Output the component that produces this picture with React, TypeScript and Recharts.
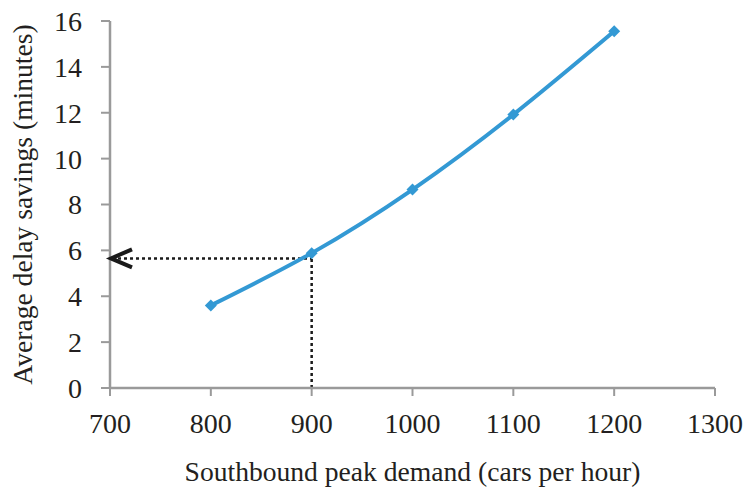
import { Line, LineChart, ReferenceDot, ReferenceLine, XAxis, YAxis } from 'recharts';

// peak demand (cars/hour) vs average delay savings (minutes)
const DEMAND = [800, 900, 1000, 1100, 1200];
const SAVINGS = [3.6, 5.88, 8.65, 11.92, 15.55];

const X_TICKS = [700, 800, 900, 1000, 1100, 1200, 1300];
const Y_TICKS = [0, 2, 4, 6, 8, 10, 12, 14, 16];

// read-off guide at 900 cars/hour
const GUIDE_X = 900;
const GUIDE_Y = 5.65;

const BLUE = '#3399d4';
const INK = '#231f20';
const FONT = '"Liberation Serif", "Times New Roman", serif';

const rows = DEMAND.map((d, i) => ({ demand: d, savings: SAVINGS[i] }));

function Diamond(props: any) {
  const { cx, cy } = props;
  if (cx == null || cy == null) return null;
  const r = 6;
  return (
    <polygon
      points={`${cx},${cy - r} ${cx + r},${cy} ${cx},${cy + r} ${cx - r},${cy}`}
      fill={BLUE}
    />
  );
}

function ArrowHead(props: any) {
  const { cx, cy } = props;
  if (cx == null || cy == null) return null;
  return (
    <path
      d={`M${cx + 22},${cy - 9} L${cx + 1},${cy} L${cx + 22},${cy + 9}`}
      fill="none"
      stroke="#1a1a1a"
      strokeWidth={4}
    />
  );
}

export default function App() {
  return (
    <div style={{ position: 'absolute', left: 0, top: 0, background: '#fff' }}>
      <LineChart
        width={751}
        height={492}
        data={rows}
        margin={{ top: 21, right: 36, bottom: 0, left: 0 }}
        style={{ fontFamily: FONT }}
      >
        <XAxis
          dataKey="demand"
          type="number"
          domain={[700, 1300]}
          ticks={X_TICKS}
          height={104}
          tickSize={8}
          tickMargin={17}
          axisLine={{ stroke: '#9a9a9a', strokeWidth: 2.5 }}
          tickLine={{ stroke: '#9a9a9a', strokeWidth: 2 }}
          tick={{ fill: INK, fontSize: 28 }}
          label={{
            value: 'Southbound peak demand (cars per hour)',
            position: 'insideBottom',
            offset: 11,
            fill: INK,
            fontSize: 27.6,
          }}
        />
        <XAxis
          xAxisId="top"
          orientation="top"
          dataKey="demand"
          type="number"
          domain={[700, 1300]}
          height={0}
          tick={false}
          tickLine={false}
          axisLine={{ stroke: '#333', strokeWidth: 2 }}
        />
        <YAxis
          type="number"
          domain={[0, 16]}
          ticks={Y_TICKS}
          width={110}
          tickSize={9}
          tickMargin={19}
          axisLine={{ stroke: '#9a9a9a', strokeWidth: 2.5 }}
          tickLine={{ stroke: '#9a9a9a', strokeWidth: 2 }}
          tick={{ fill: INK, fontSize: 28 }}
          label={{
            value: 'Average delay savings (minutes)',
            angle: -90,
            position: 'insideLeft',
            offset: 22,
            fill: INK,
            fontSize: 27.6,
            style: { textAnchor: 'middle' },
          }}
        />
        <YAxis
          yAxisId="right"
          orientation="right"
          type="number"
          domain={[0, 16]}
          width={0}
          tick={false}
          tickLine={false}
          axisLine={{ stroke: '#333', strokeWidth: 2 }}
        />
        <ReferenceLine
          segment={[
            { x: GUIDE_X, y: 0 },
            { x: GUIDE_X, y: SAVINGS[1] },
          ]}
          stroke="#1a1a1a"
          strokeWidth={2.5}
          strokeDasharray="3 3"
        />
        <ReferenceLine
          segment={[
            { x: 702, y: GUIDE_Y },
            { x: GUIDE_X, y: GUIDE_Y },
          ]}
          stroke="#1a1a1a"
          strokeWidth={2.5}
          strokeDasharray="3 3"
        />
        <ReferenceDot x={700} y={GUIDE_Y} shape={ArrowHead} />
        <Line
          dataKey="savings"
          type="natural"
          stroke={BLUE}
          strokeWidth={4}
          dot={<Diamond />}
          activeDot={false}
          isAnimationActive={false}
        />
      </LineChart>
    </div>
  );
}
